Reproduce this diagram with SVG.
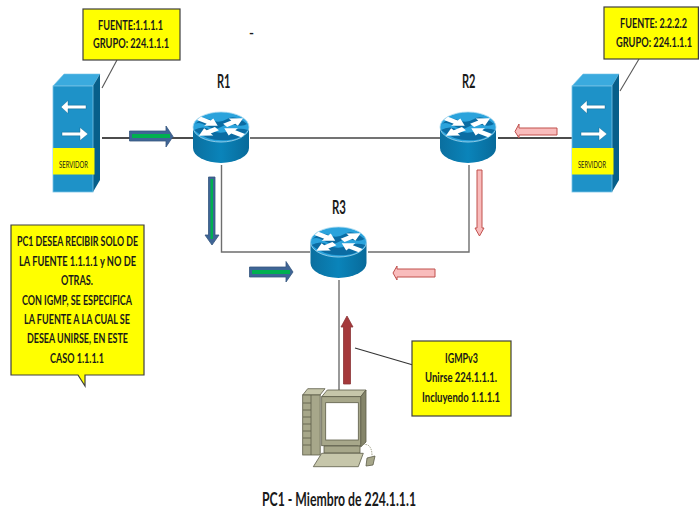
<svg xmlns="http://www.w3.org/2000/svg" xmlns:xlink="http://www.w3.org/1999/xlink" width="699" height="510" viewBox="0 0 699 510">
<style>
text{font-family:"Lato","Liberation Sans",sans-serif;font-weight:700;fill:#1a1a1a;font-size:14px}
.big{font-size:18px}
.sv{font-size:9px;font-weight:400}
.call{fill:#ffff00;stroke:#3f3f3f;stroke-width:1.2}
.blk{fill:none;stroke:#111;stroke-width:1.3}
.gry{fill:none;stroke:#6e6e6e;stroke-width:1.4}
.lead{fill:none;stroke:#555;stroke-width:1.1}
.blue{fill:#3f6596;stroke:#35577f;stroke-width:.8}
.grn{fill:#00b050}
.pink{fill:#f9bcbc;stroke:#c0504d;stroke-width:1}
.red{fill:#a5393b;stroke:#8c3537;stroke-width:.8}
.pc1{fill:#c6c6aa;stroke:#5c5c48;stroke-width:.8}
.pc2{fill:#85856a;stroke:#5c5c48;stroke-width:.8}
.pc3{fill:#a7a78a;stroke:#5c5c48;stroke-width:.8}
</style>
<defs>
<linearGradient id="body" x1="0" x2="1" y1="0" y2="0">
<stop offset="0" stop-color="#0b6f9f"/><stop offset=".5" stop-color="#0a84ba"/><stop offset="1" stop-color="#086a9a"/>
</linearGradient>
<path id="out" d="M5 -3.500H15V-8L27 0L15 8V3.500H5Z" fill="#fff"/>
<path id="in" d="M27 -3.500H15V-8L4 0L15 8V3.500H27Z" fill="#fff"/>
<g id="router">
<path d="M-28 0V21A28 15 0 0 0 28 21V0Z" fill="url(#body)"/>
<ellipse cx="0" cy="0" rx="28" ry="15" fill="#2ba3dc" stroke="#a9d9f0" stroke-width=".8"/>
<path d="M-26 -3Q-18 -11 -10 -7T6 -8T26 -3Q22 0 14 -2T0 0T-14 -1T-26 -3Z" fill="#0b6ca3"/>
<path d="M-27 3Q-18 -2 -10 3T8 4T27 3Q20 12 8 13Q-14 15 -27 3Z" fill="#0b6ca3"/>
<g transform="scale(1 .56)">
<use xlink:href="#in" href="#in" transform="rotate(215)"/>
<use xlink:href="#out" href="#out" transform="rotate(-35)"/>
<use xlink:href="#out" href="#out" transform="rotate(145)"/>
<use xlink:href="#in" href="#in" transform="rotate(35)"/>
</g>
</g>
<g id="server">
<path d="M0 12L11 0H47L40 12Z" fill="#3aaade" stroke="#76c2e6" stroke-width=".6"/>
<path d="M40 12L47 0V106L40 118Z" fill="#075f8a"/>
<rect x="0" y="12" width="40" height="106" fill="#1e92c8" stroke="#79c4e6" stroke-width=".8"/>
<path d="M33 31.200H15V26.500L8 33L15 39.500V34.800H33Z" fill="#fff" stroke="#0b5d85" stroke-width=".4"/>
<path d="M9 58.200H27V53.500L35 60L27 66.500V61.800H9Z" fill="#fff" stroke="#0b5d85" stroke-width=".4"/>
<rect x="0" y="74" width="41.500" height="26.500" fill="#ffff00"/>
</g>
</defs>
<rect width="699" height="510" fill="#fff"/>
<g id="connectors">
<path class="blk" d="M102 138H193"/>
<path class="gry" style="stroke:#444" d="M250 138H440"/>
<path class="blk" d="M498 138H572"/>
<path class="gry" d="M221.500 165V252H310"/>
<path class="gry" d="M368 252H469V165"/>
<path class="gry" d="M339 280V390"/>
<path class="lead" d="M117 60L102 88"/>
<path class="lead" d="M639 59L620 91"/>
<path class="lead" style="stroke:#333" d="M355 348L413 365"/>
</g>
<g id="flow-arrows">
<path class="blue" d="M129.500 131H166V126L173 136.500L166 147V141H129.500Z"/>
<rect class="grn" x="132" y="134" width="38" height="4"/>
<path class="blue" d="M208.500 177H215V235H219L212 245L205 235H208.500Z"/>
<rect class="grn" x="210.500" y="179" width="2.500" height="60"/>
<path class="blue" d="M249.500 267H286V261.500L293 272L286 282V277H249.500Z"/>
<rect class="grn" x="252" y="270" width="38" height="4"/>
<path class="pink" d="M557 128H519V124L515 131.500L519 138V135H557Z"/>
<path class="pink" d="M477 170H482V228H484L479.500 236L475 228H477Z"/>
<path class="pink" d="M435 269H397V266L393 273L397 280V277H435Z"/>
<path class="red" d="M343.500 384V327H341L347 316L353 327H350.500V384Z"/>
</g>
<g id="server1"><use xlink:href="#server" href="#server" x="53" y="74"/><text class="sv" x="59" y="168" textLength="29" lengthAdjust="spacingAndGlyphs">SERVIDOR</text></g>
<g id="server2"><use xlink:href="#server" href="#server" x="572" y="74"/><text class="sv" x="578" y="168" textLength="28" lengthAdjust="spacingAndGlyphs">SERVIDOR</text></g>
<g id="r1"><use xlink:href="#router" href="#router" x="221" y="127"/><text class="big" x="217" y="88" textLength="13.500" lengthAdjust="spacingAndGlyphs">R1</text></g>
<g id="r2"><use xlink:href="#router" href="#router" x="468" y="127"/><text class="big" x="462" y="88" textLength="13.500" lengthAdjust="spacingAndGlyphs">R2</text></g>
<g id="r3"><use xlink:href="#router" href="#router" x="338.500" y="242"/><text class="big" x="332" y="214" textLength="14" lengthAdjust="spacingAndGlyphs">R3</text></g>
<g id="note-fuente1">
<rect class="call" x="83" y="9" width="97" height="51"/>
<text x="98" y="29.500" textLength="65" lengthAdjust="spacingAndGlyphs">FUENTE:1.1.1.1</text>
<text x="93" y="48" textLength="76" lengthAdjust="spacingAndGlyphs">GRUPO: 224.1.1.1</text>
</g>
<g id="note-fuente2">
<rect class="call" x="604" y="7" width="94.400" height="52"/>
<text transform="translate(620 28) scale(.68 1)" textLength="98.500" lengthAdjust="spacingAndGlyphs">FUENTE: 2.2.2.2</text>
<text transform="translate(616 47) scale(.68 1)" textLength="111.800" lengthAdjust="spacingAndGlyphs">GRUPO: 224.1.1.1</text>
</g>
<g id="note-pc1">
<path class="call" d="M11 225H144V375H85V386L78 375H11Z"/>
<text x="17" y="246" textLength="121" lengthAdjust="spacingAndGlyphs">PC1 DESEA RECIBIR SOLO DE</text>
<text x="19" y="265.500" textLength="117" lengthAdjust="spacingAndGlyphs">LA FUENTE 1.1.1.1  y NO DE</text>
<text x="61" y="285" textLength="32" lengthAdjust="spacingAndGlyphs">OTRAS.</text>
<text x="22" y="304.500" textLength="110" lengthAdjust="spacingAndGlyphs">CON IGMP, SE ESPECIFICA</text>
<text x="24" y="324" textLength="106" lengthAdjust="spacingAndGlyphs">LA FUENTE A LA CUAL SE</text>
<text x="27" y="343" textLength="101" lengthAdjust="spacingAndGlyphs">DESEA UNIRSE, EN ESTE</text>
<text x="50" y="362.500" textLength="54" lengthAdjust="spacingAndGlyphs">CASO 1.1.1.1</text>
</g>
<g id="note-igmp">
<rect class="call" x="412" y="341" width="99" height="75"/>
<text x="445" y="363" textLength="33" lengthAdjust="spacingAndGlyphs">IGMPv3</text>
<text x="425" y="382" textLength="72" lengthAdjust="spacingAndGlyphs">Unirse 224.1.1.1.</text>
<text x="422" y="401.500" textLength="78" lengthAdjust="spacingAndGlyphs">Incluyendo 1.1.1.1</text>
</g>
<g id="pc1">
<path class="pc1" d="M302.700 395L307.700 388.700H325L320 395Z"/>
<rect class="pc3" x="302.700" y="395" width="17.500" height="60"/>
<path class="pc2" d="M311 395V455M303 403H311M303 410H311M303 417H311M303 424H311M303 431H311M303 438H311M303 445H311" fill="none"/>
<path class="pc1" d="M321.700 396.700L327.300 390H366L360.700 396.700Z"/>
<path class="pc2" d="M360.700 396.700L366 390V442L360.700 447Z"/>
<rect class="pc3" x="321.700" y="396.700" width="39" height="49"/>
<rect x="325.700" y="402.700" width="32.600" height="37.300" fill="#fff" stroke="#5c5c48" stroke-width=".8"/>
<path class="pc3" d="M324 446H360V453H324Z"/>
<path class="pc1" d="M321.700 453.300H363.300L358.300 466.700H313.300Z"/>
<path d="M358 446Q372 440 372 456" fill="none" stroke="#85856a" stroke-width=".8" stroke-dasharray="1.500 1"/>
<path class="pc1" style="fill:#a7a78a" d="M367 458L375 456L373 465L366 466Z"/>
<text class="big" x="262" y="505.500" textLength="154" lengthAdjust="spacingAndGlyphs">PC1 - Miembro de 224.1.1.1</text>
</g>
<text x="249" y="38" textLength="5" lengthAdjust="spacingAndGlyphs">-</text>
</svg>
